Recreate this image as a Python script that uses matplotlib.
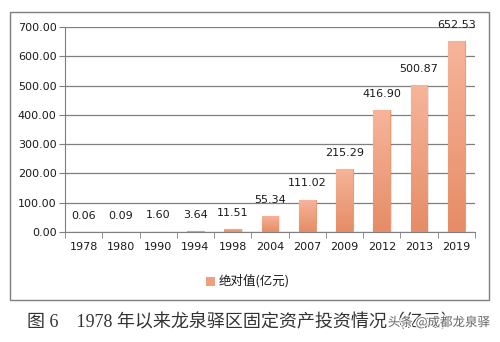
import numpy as np
import matplotlib
matplotlib.use("Agg")
import matplotlib.pyplot as plt
from matplotlib.colors import LinearSegmentedColormap
from matplotlib.patches import Rectangle
import matplotlib.patheffects as pe

plt.rcParams['font.family'] = ['DejaVu Sans', 'Noto Sans CJK SC']

years = ["1978", "1980", "1990", "1994", "1998", "2004", "2007", "2009", "2012", "2013", "2019"]
values = [0.06, 0.09, 1.60, 3.64, 11.51, 55.34, 111.02, 215.29, 416.90, 500.87, 652.53]
y_ticks = [0, 100, 200, 300, 400, 500, 600, 700]
series_name = "绝对值(亿元)"
caption = "图 6    1978 年以来龙泉驿区固定资产投资情况（亿元）"
watermark = "头条 @成都龙泉驿"

fig = plt.figure(figsize=(5, 3.42), dpi=100)
ax = fig.add_axes([0.13, 0.3216, 0.82, 0.5994])

# outer frame around the chart
fig.patches.append(Rectangle((0.02, 0.123), 0.958, 0.842, transform=fig.transFigure,
                             fill=False, edgecolor="#7f7f7f", linewidth=1.0))

x = np.arange(len(years))
bar_w = 0.45
grad = LinearSegmentedColormap.from_list("bar", ["#e68c66", "#f6b59a"])
gradient = np.linspace(0, 1, 256).reshape(-1, 1)

bars = ax.bar(x, values, width=bar_w, color="none", edgecolor="#eb9a78",
              linewidth=0.8, zorder=3)
for b in bars:
    x0, h = b.get_x(), b.get_height()
    # soft shadow on the right
    ax.add_patch(Rectangle((x0 + 0.04, 0), bar_w, h, color="#000000", alpha=0.08,
                           linewidth=0, zorder=2))
    im = ax.imshow(gradient, cmap=grad, origin="lower", aspect="auto",
                   extent=(x0, x0 + bar_w, 0, max(h, 0.01)), zorder=3)
    im.set_clip_path(b)

for xi, v in zip(x, values):
    ax.annotate(f"{v:.2f}", (xi, v), xytext=(0, 8), textcoords="offset points",
                ha="center", va="bottom", fontsize=8, color="#1a1a1a", zorder=4)

ax.set_xlim(-0.5, len(years) - 0.5)
ax.set_ylim(0, 700)
ax.set_yticks(y_ticks)
ax.set_yticklabels([f"{t:.2f}" for t in y_ticks], fontsize=8, color="#1a1a1a")
ax.set_xticks(x)
ax.set_xticklabels(years, fontsize=8, color="#1a1a1a")
ax.set_xticks(np.arange(-0.5, len(years), 1), minor=True)
ax.tick_params(axis="x", which="major", length=0, pad=7)
ax.tick_params(axis="x", which="minor", length=4, color="#7f7f7f", direction="out")
ax.tick_params(axis="y", length=4, color="#7f7f7f", pad=2)
ax.yaxis.grid(True, color="#7f7f7f", linewidth=0.9, zorder=0)
ax.set_axisbelow(True)
for s in ("top", "right"):
    ax.spines[s].set_visible(False)
for s in ("left", "bottom"):
    ax.spines[s].set_color("#7f7f7f")

# legend
fig.patches.append(Rectangle((0.412, 0.165), 0.018, 0.026, transform=fig.transFigure,
                             color="#ee9f80", linewidth=0))
fig.text(0.438, 0.178, series_name, fontsize=9, va="center", ha="left",
         family=["Noto Sans CJK SC", "DejaVu Sans"], color="#1a1a1a")

fig.text(0.054, 0.058, caption, fontsize=13, va="center", ha="left",
         family=["Liberation Serif", "Noto Sans CJK SC"], color="#333333")
fig.text(0.98, 0.058, watermark, fontsize=9, va="center", ha="right",
         family=["Noto Sans CJK SC", "DejaVu Sans"], color="#555555", alpha=0.85,
         path_effects=[pe.withStroke(linewidth=2, foreground="white")])

fig.savefig("out.png", dpi=100)
